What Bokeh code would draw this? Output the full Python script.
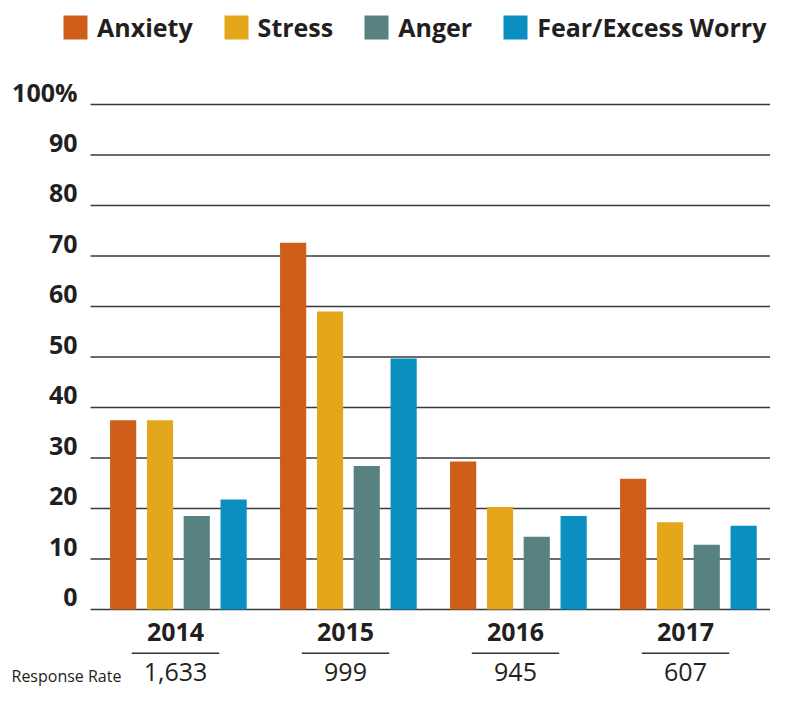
from bokeh.plotting import figure
from bokeh.models import Range1d, ColumnDataSource
from bokeh.transform import dodge
from bokeh.core.properties import value
from bokeh.embed import file_html
from bokeh.resources import INLINE

years = ["2014", "2015", "2016", "2017"]
anxiety = [37.5, 72.6, 29.3, 25.9]
stress = [37.5, 59.0, 20.3, 17.3]
anger = [18.5, 28.4, 14.4, 12.8]
fear = [21.8, 49.7, 18.5, 16.6]
response_rate = ["1,633", "999", "945", "607"]
series_names = ["Anxiety", "Stress", "Anger", "Fear/Excess Worry"]
colors = ["#D05E1B", "#E4A71B", "#588181", "#0A8FC0"]
y_ticks = [0, 10, 20, 30, 40, 50, 60, 70, 80, 90, 100]
y_tick_labels = ["0", "10", "20", "30", "40", "50", "60", "70", "80", "90", "100%"]

TEXT = "#231f20"
FONT = "Open Sans"

W, H = 770, 688
LEFT_PX = 90                      # space for the value labels, left of the bars
cat_px = (W - LEFT_PX) / len(years)
ppu = 5.05                        # pixels per percentage point
zero_px = 609                     # pixel row of the 0 line from the top

src = ColumnDataSource(dict(xpos=list(range(len(years))), year=years,
                            anxiety=anxiety, stress=stress, anger=anger, fear=fear,
                            resp=response_rate))
grid_src = ColumnDataSource(dict(y=y_ticks, lab=y_tick_labels))

p = figure(width=W, height=H, output_backend="svg", toolbar_location=None,
           x_range=Range1d(-0.5 - LEFT_PX / cat_px, len(years) - 0.5),
           y_range=Range1d(-(H - zero_px) / ppu, zero_px / ppu),
           min_border=0)
p.outline_line_color = None
p.axis.visible = False
p.grid.visible = False

# horizontal rules and their labels
p.segment(x0=-0.5, x1=len(years) - 0.5, y0="y", y1="y", source=grid_src,
          line_color="#3a3a3a", line_width=1.5)
p.text(x=-0.5, y="y", text="lab", source=grid_src, x_offset=-13, y_offset=-12.5,
       text_font=value(FONT), text_font_style="bold", text_font_size="25px",
       text_color=TEXT, text_align="right", text_baseline="alphabetic")

fields = ["anxiety", "stress", "anger", "fear"]
offsets = [-0.325, -0.108, 0.108, 0.325]
shift = 0.017
for f, off, c, name in zip(fields, offsets, colors, series_names):
    p.vbar(x=dodge("xpos", off + shift), top=f, width=0.154,
           source=src, fill_color=c, line_color=None, legend_label=name)

# year labels, underline, response rates
p.text(x="xpos", y=-4.455, text="year", source=src, text_font=value(FONT),
       text_font_style="bold", text_font_size="25px", text_color=TEXT,
       text_align="center", text_baseline="alphabetic")
p.segment(x0=dodge("xpos", -0.257), x1=dodge("xpos", 0.257),
          y0=-8.65, y1=-8.65, source=src, line_color="#333333", line_width=1.5)
p.text(x="xpos", y=-12.38, text="resp", source=src, text_font=value(FONT),
       text_font_size="25px", text_color=TEXT, text_align="center",
       text_baseline="alphabetic")
p.text(x=-0.5, y=-13.07, text=["Response Rate"], x_offset=-79,
       text_font=value(FONT), text_font_size="16px", text_color=TEXT,
       text_align="left", text_baseline="alphabetic")

lg = p.legend[0]
lg.orientation = "horizontal"
lg.location = (60, H - 44)
lg.glyph_width = 30
lg.glyph_height = 30
lg.label_standoff = 7
lg.spacing = 28
lg.padding = 0
lg.margin = 0
lg.border_line_color = None
lg.background_fill_alpha = 0
lg.label_text_font = FONT
lg.label_text_font_style = "bold"
lg.label_text_font_size = "25px"
lg.label_text_color = TEXT

open("out.html", "w").write(file_html(p, INLINE))
